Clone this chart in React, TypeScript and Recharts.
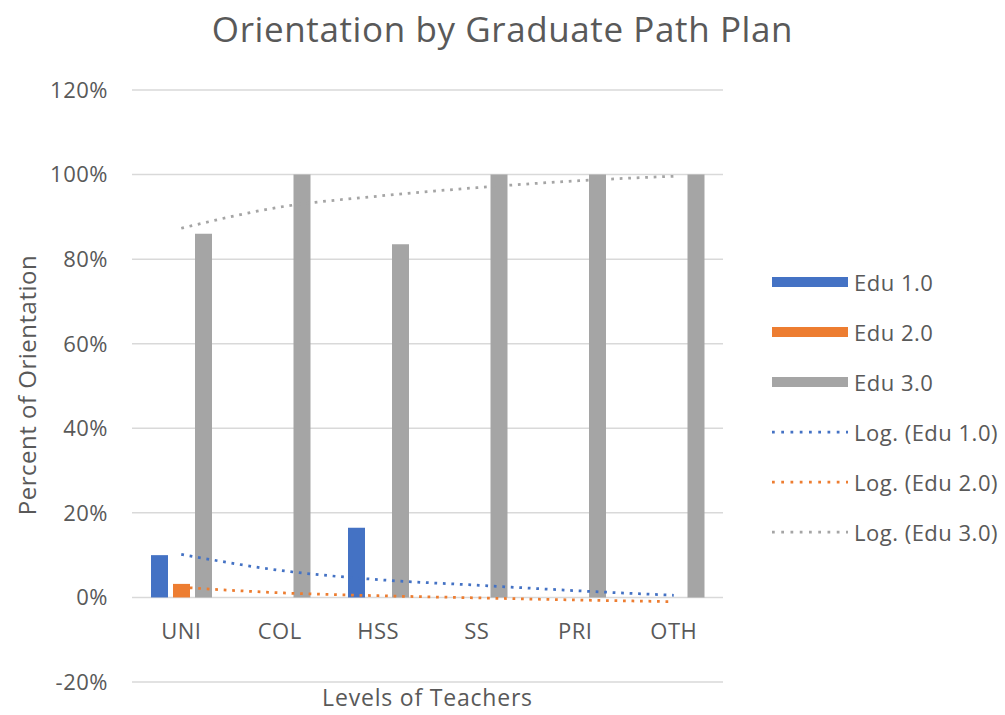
import { Bar, CartesianGrid, ComposedChart, Line, XAxis, YAxis } from "recharts";

const categories = ["UNI", "COL", "HSS", "SS", "PRI", "OTH"];
const edu1 = [10, 0, 16.5, 0, 0, 0];
const edu2 = [3.2, 0, 0, 0, 0, 0];
const edu3 = [86, 100, 83.5, 100, 100, 100];
// trend lines at each category
const logEdu1 = [10.2, 6.4, 4.2, 2.9, 1.6, 0.5];
const logEdu2 = [2.4, 1.1, 0.4, -0.1, -0.6, -1.0];
const logEdu3 = [87.3, 92.3, 94.9, 96.9, 98.5, 99.6];
const yTicks = [-20, 0, 20, 40, 60, 80, 100, 120];

const BLUE = "#4472c4";
const ORANGE = "#ed7d31";
const GRAY = "#a5a5a5";
const TEXT = "#595959";
const FONT = "'Open Sans', sans-serif";
const SPACING = 0.5;

const bars = [
  { key: "edu1", name: "Edu 1.0", color: BLUE },
  { key: "edu2", name: "Edu 2.0", color: ORANGE },
  { key: "edu3", name: "Edu 3.0", color: GRAY },
];
const trends = [
  { key: "log1", name: "Log. (Edu 1.0)", color: BLUE },
  { key: "log2", name: "Log. (Edu 2.0)", color: ORANGE },
  { key: "log3", name: "Log. (Edu 3.0)", color: GRAY },
];

const data = categories.map((c, i) => ({
  cat: c,
  edu1: edu1[i],
  edu2: edu2[i],
  edu3: edu3[i],
  log1: logEdu1[i],
  log2: logEdu2[i],
  log3: logEdu3[i],
}));

function ChartLegend() {
  const rows = [
    ...bars.map((b) => ({ ...b, kind: "bar" })),
    ...trends.map((t) => ({ ...t, kind: "line" })),
  ];
  return (
    <div style={{ position: "absolute", left: 771, top: 257, fontFamily: FONT }}>
      {rows.map((r) => (
        <div key={r.key} style={{ display: "flex", alignItems: "center", height: 50 }}>
          <svg width={78} height={12} style={{ marginRight: 5 }}>
            {r.kind === "bar" ? (
              <rect x={1} y={1} width={76} height={10} fill={r.color} />
            ) : (
              <line
                x1={1}
                x2={77}
                y1={6}
                y2={6}
                stroke={r.color}
                strokeWidth={2.75}
                strokeDasharray="2.75 6.5"
              />
            )}
          </svg>
          <span style={{ fontSize: 22, letterSpacing: SPACING, color: TEXT, whiteSpace: "nowrap" }}>
            {r.name}
          </span>
        </div>
      ))}
    </div>
  );
}

function CatTick({ x, payload }: { x?: number; payload?: { value: string } }) {
  return (
    <text
      x={x}
      y={639}
      textAnchor="middle"
      fill={TEXT}
      fontSize={22}
      letterSpacing={SPACING}
      fontFamily={FONT}
    >
      {payload?.value}
    </text>
  );
}

export default function App() {
  return (
    <div
      style={{
        position: "absolute",
        left: 0,
        top: 0,
        width: 1005,
        height: 715,
        background: "#ffffff",
        fontFamily: FONT,
      }}
    >
      <div
        style={{
          position: "absolute",
          left: 0,
          width: 1005,
          top: 5,
          textAlign: "center",
          fontSize: 35,
          letterSpacing: 0.6,
          color: TEXT,
        }}
      >
        Orientation by Graduate Path Plan
      </div>
      <div
        style={{
          position: "absolute",
          left: 26,
          top: 385,
          transform: "translate(-50%, -50%) rotate(-90deg)",
          fontSize: 24,
          letterSpacing: SPACING,
          color: TEXT,
          whiteSpace: "nowrap",
        }}
      >
        Percent of Orientation
      </div>
      <div
        style={{
          position: "absolute",
          left: 132,
          width: 591,
          top: 686,
          lineHeight: "23px",
          textAlign: "center",
          fontSize: 23,
          letterSpacing: 0.8,
          color: TEXT,
        }}
      >
        Levels of Teachers
      </div>

      <ComposedChart
        width={1005}
        height={715}
        data={data}
        margin={{ top: 90, right: 282, bottom: 0, left: 0 }}
        barSize={17}
        barGap={5}
      >
        <CartesianGrid vertical={false} stroke="#d9d9d9" strokeWidth={1.5} />
        <XAxis
          dataKey="cat"
          height={33}
          axisLine={false}
          tickLine={false}
          tick={<CatTick />}
          interval={0}
        />
        <YAxis
          width={132}
          domain={[-20, 120]}
          ticks={yTicks}
          axisLine={false}
          tickLine={false}
          tickMargin={18}
          tickFormatter={(v) => `${v}%`}
          tick={{ fill: TEXT, fontSize: 22, fontFamily: FONT, letterSpacing: SPACING }}
        />
        {bars.map((b) => (
          <Bar key={b.key} dataKey={b.key} name={b.name} fill={b.color} isAnimationActive={false} />
        ))}
        {trends.map((t) => (
          <Line
            key={t.key}
            type="monotone"
            dataKey={t.key}
            name={t.name}
            stroke={t.color}
            strokeWidth={2.75}
            strokeDasharray="2.75 5.75"
            dot={false}
            activeDot={false}
            isAnimationActive={false}
          />
        ))}
      </ComposedChart>
      <ChartLegend />
    </div>
  );
}
